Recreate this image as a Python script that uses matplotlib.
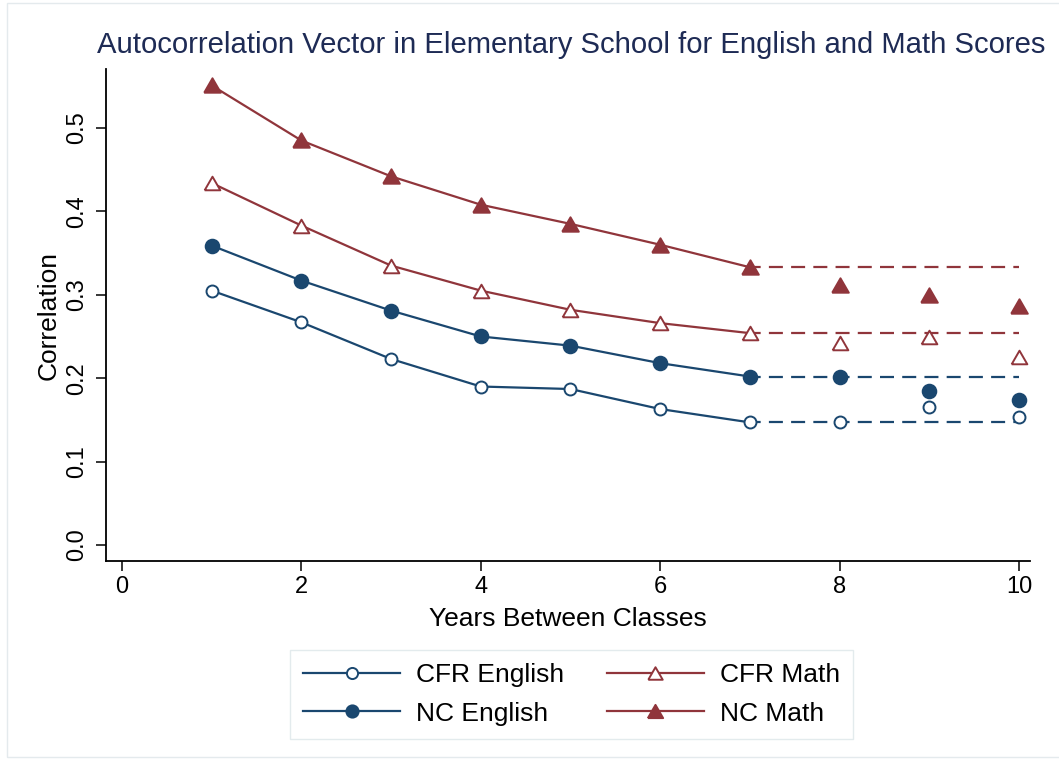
import numpy as np
import matplotlib
matplotlib.use('Agg')
import matplotlib.pyplot as plt
from matplotlib.lines import Line2D
from matplotlib.patches import Rectangle

plt.rcParams['font.family'] = ['Liberation Sans', 'DejaVu Sans']

# Years between classes and autocorrelation values
years = [1, 2, 3, 4, 5, 6, 7, 8, 9, 10]
cfr_english = [0.305, 0.267, 0.223, 0.190, 0.187, 0.163, 0.147, 0.147, 0.165, 0.153]
nc_english = [0.359, 0.317, 0.281, 0.250, 0.239, 0.218, 0.202, 0.201, 0.185, 0.174]
cfr_math = [0.434, 0.383, 0.335, 0.305, 0.282, 0.266, 0.254, 0.242, 0.249, 0.225]
nc_math = [0.551, 0.485, 0.442, 0.408, 0.385, 0.360, 0.333, 0.312, 0.300, 0.286]
labels = ['CFR English', 'NC English', 'CFR Math', 'NC Math']
x_ticks = [0, 2, 4, 6, 8, 10]
y_ticks = [0.0, 0.1, 0.2, 0.3, 0.4, 0.5]
cutoff = 7  # lines joined up to here, dashed plateau afterwards

NAVY = '#1a476f'
MAROON = '#90353b'
TRI = [(-1, -0.866), (1, -0.866), (0, 0.866), (-1, -0.866)]

fig = plt.figure(figsize=(10.59, 7.7), dpi=100)
fig.patch.set_facecolor('white')
fig.patches.append(Rectangle((7 / 1059, 13 / 770), 1.1, 754 / 770, transform=fig.transFigure,
                             fill=False, edgecolor='#e4eaed', lw=1.0))
ax = fig.add_axes([106 / 1059, 209 / 770, 924 / 1059, 492 / 770])

# values, colour, marker, face, size in plot, size in legend
series = [
    (cfr_english, NAVY, 'o', 'white', 8.6, 8.0),
    (nc_english, NAVY, 'o', NAVY, 9.8, 8.8),
    (cfr_math, MAROON, TRI, 'white', 11.3, 10.4),
    (nc_math, MAROON, TRI, MAROON, 12.0, 11.0),
]

handles = []
for (vals, col, mk, fc, ms, lms), lab in zip(series, labels):
    xs = np.array(years)
    vs = np.array(vals)
    solid = xs <= cutoff
    ax.plot(xs[solid], vs[solid], color=col, lw=1.6, zorder=2)
    ax.hlines(vs[xs == cutoff][0], cutoff, xs.max(), colors=col, lw=1.6,
              linestyles=(1.5, (6.3, 3.7)), zorder=2)
    ax.plot(xs, vs, ls='none', marker=mk, ms=ms, mfc=fc, mec=col, mew=1.4, zorder=3)
    handles.append(Line2D([], [], color=col, lw=1.6, marker=mk, ms=lms, mfc=fc, mec=col,
                          mew=1.4, label=lab))

ax.set_xlim(-0.178, 10.123)
ax.set_ylim(-0.0192, 0.5707)
ax.set_xticks(x_ticks)
ax.set_yticks(y_ticks)
ax.set_yticklabels([f'{v:.1f}' for v in y_ticks], rotation=90, va='center')
ax.tick_params(axis='both', direction='out', length=7, width=1.1, labelsize=17, color='black')
ax.tick_params(axis='y', pad=6)
ax.tick_params(axis='x', pad=4)
for s in ['top', 'right']:
    ax.spines[s].set_visible(False)
for s in ['left', 'bottom']:
    ax.spines[s].set_linewidth(1.3)

ax.set_xlabel('Years Between Classes', fontsize=19, labelpad=6)
ax.set_ylabel('Correlation', fontsize=19, labelpad=4)

fig.text(571 / 1059, 1 - 45 / 770, 'Autocorrelation Vector in Elementary School for English and Math Scores',
         ha='center', va='center', fontsize=21.1, color='#1e2b55')

leg = fig.legend(handles=handles, ncol=2, loc='center', bbox_to_anchor=(571.5 / 1059, 75.5 / 770),
                 fontsize=19, frameon=True, fancybox=False, handlelength=3.7, handletextpad=0.6,
                 columnspacing=1.6, labelspacing=0.54, borderpad=0.5)
leg.get_frame().set_edgecolor('#dde6e9')
leg.get_frame().set_linewidth(1.0)

fig.savefig('out.png', dpi=100, facecolor='white')
